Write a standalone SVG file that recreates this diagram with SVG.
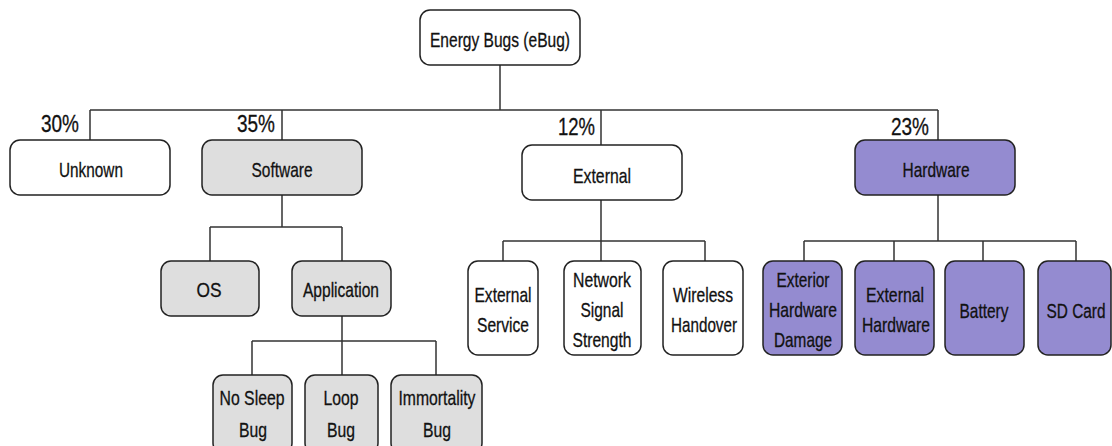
<svg xmlns="http://www.w3.org/2000/svg" width="1112" height="446" viewBox="0 0 1112 446">
<style>
.box{stroke:#222;stroke-width:1.5}
.w{fill:#ffffff}
.g{fill:#dedede}
.p{fill:#948bd0}
text{font-family:"Liberation Sans Narrow","Liberation Sans",Arial,sans-serif;font-size:21px;fill:#111;stroke:#111;stroke-width:0.3;text-anchor:middle}
.pct{font-size:23px;text-anchor:start}
.ln{stroke:#333;stroke-width:1.5;fill:none}
</style>
<rect width="1112" height="446" fill="#ffffff"/>
<g id="connectors">
<path class="ln" d="M500 65V110M90 110H938M90 110V140M282 110V140M601 110V145M938 110V140"/>
<path class="ln" d="M282 195V227M210 227H342M210 227V261M342 227V261"/>
<path class="ln" d="M342 316V341M252 341H436M252 341V375M342 341V375M436 341V375"/>
<path class="ln" d="M601 200V241M503 241H705M503 241V261M601 241V261M705 241V261"/>
<path class="ln" d="M938 195V241M804 241H1076M804 241V261M894 241V261M983 241V261M1076 241V261"/>
</g>
<g id="pct">
<text class="pct" x="41" y="132" textLength="38" lengthAdjust="spacingAndGlyphs">30%</text>
<text class="pct" x="237" y="132" textLength="38" lengthAdjust="spacingAndGlyphs">35%</text>
<text class="pct" x="558" y="135" textLength="37" lengthAdjust="spacingAndGlyphs">12%</text>
<text class="pct" x="891" y="135" textLength="38" lengthAdjust="spacingAndGlyphs">23%</text>
</g>
<g id="root"><rect class="box w" x="420" y="10" width="160" height="55" rx="10"/><text x="500" y="47" textLength="140" lengthAdjust="spacingAndGlyphs">Energy Bugs (eBug)</text></g>
<g id="unknown"><rect class="box w" x="10" y="140" width="160" height="55" rx="10"/><text x="91" y="177" textLength="64" lengthAdjust="spacingAndGlyphs">Unknown</text></g>
<g id="software"><rect class="box g" x="202" y="140" width="160" height="55" rx="10"/><text x="282" y="177" textLength="61" lengthAdjust="spacingAndGlyphs">Software</text></g>
<g id="external"><rect class="box w" x="522" y="145" width="160" height="55" rx="10"/><text x="602" y="183" textLength="58" lengthAdjust="spacingAndGlyphs">External</text></g>
<g id="hardware"><rect class="box p" x="855" y="140" width="160" height="55" rx="10"/><text x="936" y="177" textLength="67" lengthAdjust="spacingAndGlyphs">Hardware</text></g>
<g id="os"><rect class="box g" x="161" y="261" width="98" height="55" rx="10"/><text x="209" y="297" textLength="25" lengthAdjust="spacingAndGlyphs">OS</text></g>
<g id="application"><rect class="box g" x="292" y="261" width="99" height="55" rx="10"/><text x="341" y="297" textLength="76" lengthAdjust="spacingAndGlyphs">Application</text></g>
<g id="nosleep"><rect class="box g" x="213" y="375" width="79" height="78" rx="10"/><text x="252" y="405" textLength="65" lengthAdjust="spacingAndGlyphs">No Sleep</text><text x="253" y="437" textLength="28" lengthAdjust="spacingAndGlyphs">Bug</text></g>
<g id="loop"><rect class="box g" x="305" y="375" width="73" height="78" rx="10"/><text x="341" y="405" textLength="35" lengthAdjust="spacingAndGlyphs">Loop</text><text x="341" y="437" textLength="28" lengthAdjust="spacingAndGlyphs">Bug</text></g>
<g id="immortality"><rect class="box g" x="391" y="375" width="91" height="78" rx="10"/><text x="437" y="405" textLength="77" lengthAdjust="spacingAndGlyphs">Immortality</text><text x="437" y="437" textLength="28" lengthAdjust="spacingAndGlyphs">Bug</text></g>
<g id="extservice"><rect class="box w" x="468" y="261" width="70" height="94" rx="10"/><text x="503" y="302" textLength="57" lengthAdjust="spacingAndGlyphs">External</text><text x="503" y="332" textLength="52" lengthAdjust="spacingAndGlyphs">Service</text></g>
<g id="network"><rect class="box w" x="564" y="261" width="77" height="94" rx="10"/><text x="602" y="287" textLength="58" lengthAdjust="spacingAndGlyphs">Network</text><text x="602" y="317" textLength="43" lengthAdjust="spacingAndGlyphs">Signal</text><text x="602" y="347" textLength="59" lengthAdjust="spacingAndGlyphs">Strength</text></g>
<g id="wireless"><rect class="box w" x="663" y="261" width="80" height="94" rx="10"/><text x="703" y="302" textLength="60" lengthAdjust="spacingAndGlyphs">Wireless</text><text x="704" y="332" textLength="66" lengthAdjust="spacingAndGlyphs">Handover</text></g>
<g id="exterior"><rect class="box p" x="763" y="261" width="79" height="94" rx="10"/><text x="803" y="287" textLength="53" lengthAdjust="spacingAndGlyphs">Exterior</text><text x="803" y="317" textLength="68" lengthAdjust="spacingAndGlyphs">Hardware</text><text x="803" y="347" textLength="58" lengthAdjust="spacingAndGlyphs">Damage</text></g>
<g id="exthardware"><rect class="box p" x="855" y="261" width="79" height="94" rx="10"/><text x="895" y="302" textLength="58" lengthAdjust="spacingAndGlyphs">External</text><text x="896" y="332" textLength="68" lengthAdjust="spacingAndGlyphs">Hardware</text></g>
<g id="battery"><rect class="box p" x="945" y="261" width="79" height="94" rx="10"/><text x="984" y="318" textLength="49" lengthAdjust="spacingAndGlyphs">Battery</text></g>
<g id="sdcard"><rect class="box p" x="1038" y="261" width="73" height="94" rx="10"/><text transform="translate(1076,318) scale(0.733,1)" x="0" y="0">SD Card</text></g>
</svg>
